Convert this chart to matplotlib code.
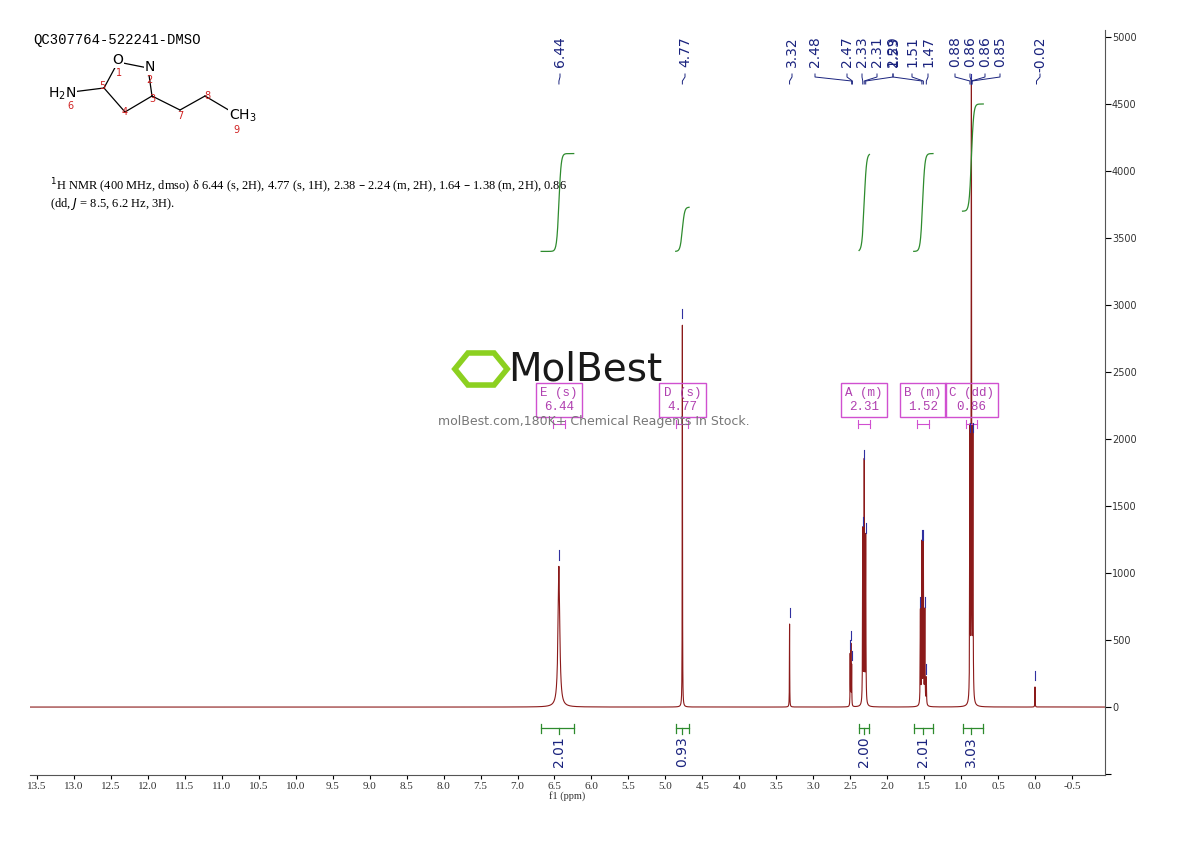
import numpy as np
import matplotlib
matplotlib.use("Agg")
import matplotlib.pyplot as plt
from matplotlib.patches import RegularPolygon

# ---- data ----
peak_ppm = [6.44, 4.77, 3.32, 2.50, 2.49, 2.48, 2.33, 2.31, 2.29, 1.55, 1.53, 1.51, 1.49, 1.47, 0.88, 0.86, 0.84, 0.00]
peak_h   = [1050, 2850, 620, 380, 450, 300, 1300, 1800, 1250, 700, 1200, 1200, 700, 200, 2000, 4600, 2000, 150]
peak_w   = [0.014, 0.002, 0.002, 0.002, 0.002, 0.002, 0.003, 0.003, 0.003, 0.003, 0.003, 0.003, 0.003, 0.003, 0.003, 0.003, 0.003, 0.002]
label_txt = ["6.44", "4.77", "3.32", "2.48", "2.47", "2.33", "2.31", "2.29", "1.53", "1.51", "1.47", "0.88", "0.86", "0.86", "0.85", "-0.02"]
label_ppm = [6.44, 4.77, 3.32, 2.48, 2.47, 2.33, 2.31, 2.29, 1.53, 1.51, 1.47, 0.88, 0.86, 0.86, 0.85, -0.02]
label_px  = [560, 685, 792, 815, 847, 862, 877, 893, 893, 912, 928, 955, 970, 985, 1000, 1040]
int_vals  = ["2.01", "0.93", "2.00", "2.01", "3.03"]
int_lo    = [6.68, 4.86, 2.38, 1.64, 0.98]
int_hi    = [6.24, 4.68, 2.24, 1.38, 0.70]
int_center= [6.44, 4.77, 2.31, 1.52, 0.86]
int_top   = [4130, 3730, 4130, 4130, 4500]
int_base  = [3400, 3400, 3400, 3400, 3700]
box_lbl   = ["E (s)\n6.44", "D (s)\n4.77", "A (m)\n2.31", "B (m)\n1.52", "C (dd)\n0.86"]
box_c     = [6.44, 4.77, 2.31, 1.52, 0.86]
xticks = np.arange(-0.5, 13.51, 0.5)
yticks = np.arange(0, 5001, 500)

W, H = 1190, 841
fig = plt.figure(figsize=(11.9, 8.41), dpi=100)
ax = fig.add_axes([30/W, 1-775/H, (1105-30)/W, (775-30)/H])
xmin, xmax = 13.595, -0.947
ax.set_xlim(xmin, xmax)
ax.set_ylim(-507, 5052)

x = np.linspace(xmax, xmin, 60000)
y = np.zeros_like(x)
for p, h, w in zip(peak_ppm, peak_h, peak_w):
    y += h / (1 + ((x - p) / w) ** 2)
ax.plot(x, y, color="#8b1a1a", lw=0.8)

# integrals
for lo, hi, c, t, b in zip(int_lo, int_hi, int_center, int_top, int_base):
    xs = np.linspace(hi, lo, 200)
    ys = b + (t - b) * (1 - (1 / (1 + np.exp((c - xs) / 0.015))))
    ax.plot(xs, ys, color="#2e8b2e", lw=0.9)
    ax.plot([lo, hi], [-160, -160], color="#2e8b2e", lw=0.9)
    ax.plot([lo, lo], [-130, -190], color="#2e8b2e", lw=0.9)
    ax.plot([hi, hi], [-130, -190], color="#2e8b2e", lw=0.9)
    ax.plot([c, c], [-160, -200], color="#2e8b2e", lw=0.9)
for c, v in zip(int_center, int_vals):
    ax.text(c, -330, v, rotation=90, ha="center", va="center", fontsize=10, color="#1a237e")

# watermark
fig.add_artist(RegularPolygon((481 / W, 1 - 369 / H), 6, radius=0.022, orientation=np.pi / 2,
                              transform=fig.transFigure, fc="none", ec="#8cd020", lw=4))
fig.text(508 / W, 1 - 370 / H, "MolBest", fontsize=28, color="black", va="center", ha="left", family="DejaVu Sans", alpha=0.9)
fig.text(594 / W, 1 - 421 / H, "molBest.com,180K+ Chemical Reagents In Stock.", fontsize=9, color="#777", ha="center", va="center")

# boxes
for c, t in zip(box_c, box_lbl):
    ax.text(c, 2290, t, ha="center", va="center", fontsize=9, color="#b040b0",
            family="Liberation Mono", linespacing=1.2,
            bbox=dict(boxstyle="square,pad=0.35", fc="none", ec="#d050d0", lw=1))
    ax.plot([c - 0.08, c + 0.08], [2110, 2110], color="#d050d0", lw=0.8)
    ax.plot([c - 0.08, c - 0.08], [2080, 2140], color="#d050d0", lw=0.8)
    ax.plot([c + 0.08, c + 0.08], [2080, 2140], color="#d050d0", lw=0.8)

# axes style
for s in ["top", "left"]:
    ax.spines[s].set_visible(False)
ax.spines["bottom"].set_color("#555")
ax.spines["right"].set_color("#555")
ax.set_xticks(xticks)
ax.set_xticklabels([f"{v:.1f}" for v in xticks], fontsize=8, family="Liberation Serif", color="#333")
ax.yaxis.tick_right()
ax.set_yticks(list(yticks) + [-500])
ax.set_yticklabels([str(int(v)) for v in yticks] + [""], fontsize=7, color="#333")
ax.tick_params(axis="y", direction="out", length=4, pad=1)
ax.tick_params(axis="x", direction="out", length=3, pad=2)
ax.set_xlabel("f1 (ppm)", fontsize=7.5, family="Liberation Serif", labelpad=0, color="#333")

# peak labels
def d2px(p):
    return 30 + (xmin - p) / (xmin - xmax) * (1105 - 30)
for t, p, px in zip(label_txt, label_ppm, label_px):
    fig.text(px / W, 1 - 36 / H, t, rotation=90, ha="center", va="top", fontsize=10, color="#1a237e")
    xp = d2px(p)
    fig.add_artist(plt.Line2D([px / W, px / W, xp / W, xp / W],
                              [1 - 74 / H, 1 - 77 / H, 1 - 81 / H, 1 - 84 / H],
                              color="#1a237e", lw=0.7))
for p, h in zip(peak_ppm, peak_h):
    ax.plot([p, p], [h + 50, h + 120], color="#3030a0", lw=0.8)

# title and description
fig.text(33 / W, 1 - 40 / H, "QC307764-522241-DMSO", fontsize=10, family="Liberation Mono", va="center")
fig.text(50 / W, 1 - 186 / H, r"$^{1}$H NMR (400 MHz, dmso) δ 6.44 (s, 2H), 4.77 (s, 1H), 2.38 – 2.24 (m, 2H), 1.64 – 1.38 (m, 2H), 0.86",
         fontsize=9, family="Liberation Serif", va="center")
fig.text(50 / W, 1 - 204 / H, "(dd, $J$ = 8.5, 6.2 Hz, 3H).", fontsize=9, family="Liberation Serif", va="center")

# molecule sketch
P = {"O": (118, 62), "N": (148, 68), "C3": (152, 96), "C4": (125, 112), "C5": (104, 88),
     "C7": (180, 110), "C8": (205, 96), "C9": (232, 112), "N6": (72, 92)}
def ln(a, b):
    (x1, y1), (x2, y2) = P[a], P[b]
    fig.add_artist(plt.Line2D([x1 / W, x2 / W], [1 - y1 / H, 1 - y2 / H], color="k", lw=0.9))
for a, b in [("O", "N"), ("N", "C3"), ("C3", "C4"), ("C4", "C5"), ("C5", "O"), ("C3", "C7"), ("C7", "C8"), ("C8", "C9"), ("C5", "N6")]:
    ln(a, b)
for t, (px, py) in [("O", (118, 60)), ("N", (150, 67)), ("CH$_3$", (243, 116)), ("H$_2$N", (62, 94))]:
    fig.text(px / W, 1 - py / H, t, fontsize=10, ha="center", va="center",
             bbox=dict(fc="white", ec="none", pad=0.5))
for t, (px, py) in [("1", (119, 73)), ("2", (149, 80)), ("3", (152, 99)), ("4", (125, 112)), ("5", (102, 86)),
                    ("6", (70, 106)), ("7", (180, 116)), ("8", (207, 96)), ("9", (236, 130))]:
    fig.text(px / W, 1 - py / H, t, fontsize=7, color="#d02020", ha="center", va="center")

fig.savefig("out.png", dpi=100)
